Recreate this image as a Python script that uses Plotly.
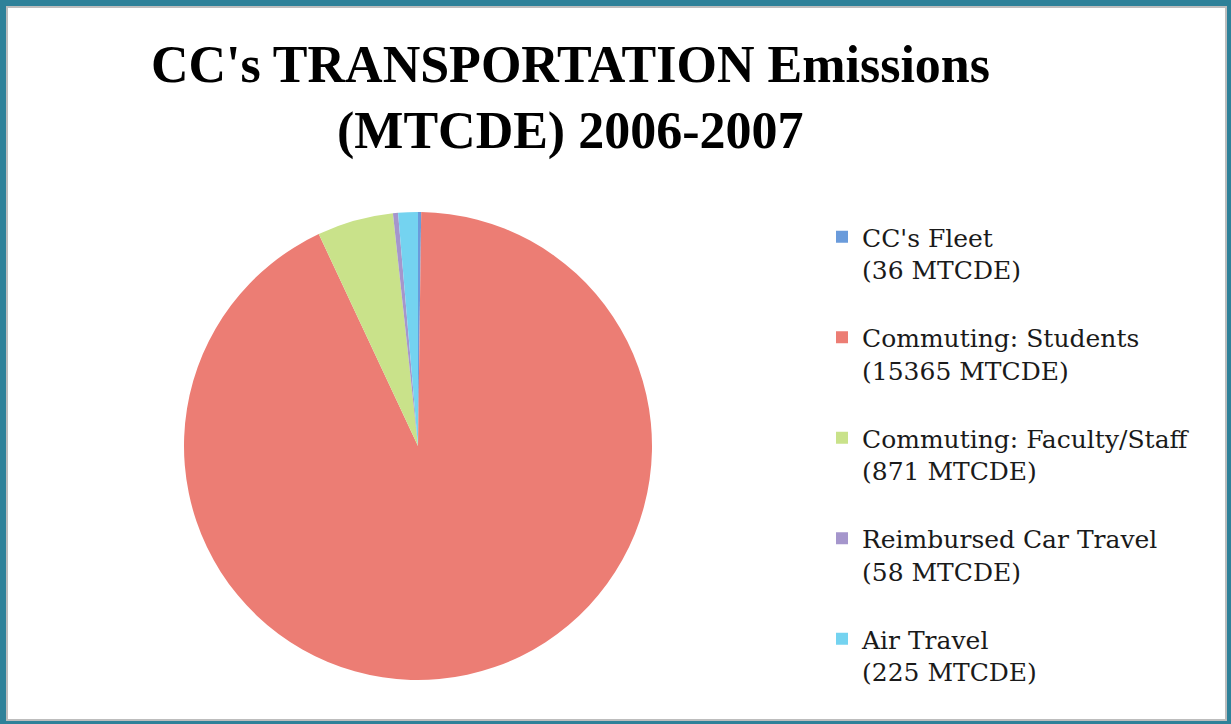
import plotly.graph_objects as go

categories = ["CC's Fleet", "Commuting: Students", "Commuting: Faculty/Staff",
              "Reimbursed Car Travel", "Air Travel"]
values = [36, 15365, 871, 58, 225]
colors = ["#6A9BDB", "#EC7D74", "#C9E28A", "#A596CC", "#74D3F0"]
title_lines = ["CC's TRANSPORTATION Emissions", "(MTCDE) 2006-2007"]

W, H = 1231, 724
labels = [f"{c}<br>({v} MTCDE)<br>\u00a0" for c, v in zip(categories, values)]

cx, cy, r = 418, 446, 234
fig = go.Figure(go.Pie(
    labels=labels, values=values, sort=False, direction="clockwise", rotation=0,
    marker=dict(colors=colors, line=dict(width=0)),
    textinfo="none", hoverinfo="label+value",
    domain=dict(x=[(cx - r) / W, (cx + r) / W], y=[(H - cy - r) / H, (H - cy + r) / H]),
))

title_font = dict(family="Liberation Serif", size=52, color="black", weight="bold")
annotations = []
for line, yc in zip(title_lines, [65, 131]):
    annotations.append(dict(text=line, x=570 / W, y=(H - yc) / H, xref="paper", yref="paper",
                            xanchor="center", yanchor="middle", showarrow=False,
                            font=title_font))

fig.update_layout(
    width=W, height=H, margin=dict(l=0, r=0, t=0, b=0, autoexpand=False),
    paper_bgcolor="#2E8199", plot_bgcolor="white",
    showlegend=True,
    legend=dict(x=822 / W, y=(H - 214) / H, xref="container", yref="container",
                xanchor="left", yanchor="top", maxheight=700,
                font=dict(family="DejaVu Serif", size=25, color="#1a1a1a"),
                valign="top", bgcolor="rgba(0,0,0,0)", traceorder="normal"),
    shapes=[dict(type="rect", xref="paper", yref="paper", layer="below",
                 x0=7 / W, x1=1226 / W, y0=(H - 720) / H, y1=(H - 7) / H,
                 fillcolor="white", line=dict(color="#BDBDBD", width=2))],
    annotations=annotations,
)
fig.write_html("out.html", config={"displayModeBar": False},
               post_script="document.body.style.margin='0';document.body.style.overflow='hidden';")
